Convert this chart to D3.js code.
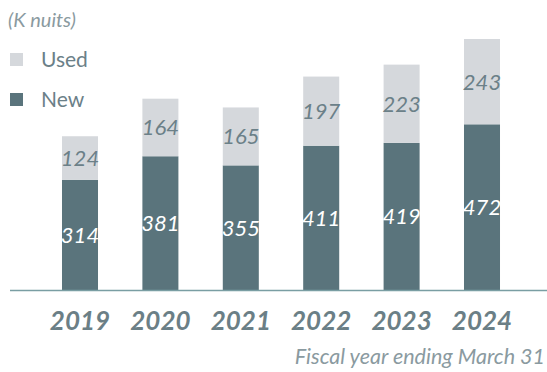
<!DOCTYPE html>
<html>
<head>
<meta charset="utf-8">
<title>K nuits</title>
<style>
body { margin: 0; background: #fff; }
text { font-family: Lato, "Open Sans", sans-serif; font-style: italic; }
</style>
</head>
<body>
<div id="chart"></div>
<script src="https://d3js.org/d3.v7.min.js"></script>
<script>
// values
var years = ["2019", "2020", "2021", "2022", "2023", "2024"];
var newUnits = [314, 381, 355, 411, 419, 472];
var usedUnits = [124, 164, 165, 197, 223, 243];
var legendLabels = ["Used", "New"];

var w = 547, h = 372;
var colNew = "#5a747c", colUsed = "#d5d8dc";

var svg = d3.select("#chart").append("svg")
    .attr("width", w).attr("height", h);

// x band: centres at 80 ... 482
var x = d3.scaleBand().domain(years)
    .range([39.8, 522.2]).paddingInner(0.552).paddingOuter(0.276);
var y = d3.scaleLinear().domain([0, 715]).range([290, 39]);

var rows = years.map(function(yr, i) {
  return { year: yr, n: newUnits[i], u: usedUnits[i] };
});

// new segments
svg.selectAll("rect.new").data(rows).enter().append("rect")
    .attr("class", "new")
    .attr("x", function(d) { return x(d.year); })
    .attr("width", x.bandwidth())
    .attr("y", function(d) { return y(d.n); })
    .attr("height", function(d) { return y(0) - y(d.n); })
    .attr("fill", colNew);

// used segments
svg.selectAll("rect.used").data(rows).enter().append("rect")
    .attr("class", "used")
    .attr("x", function(d) { return x(d.year); })
    .attr("width", x.bandwidth())
    .attr("y", function(d) { return y(d.n + d.u); })
    .attr("height", function(d) { return y(d.n) - y(d.n + d.u); })
    .attr("fill", colUsed);

// labels in bars
svg.selectAll("text.lnew").data(rows).enter().append("text")
    .attr("x", function(d) { return x(d.year) + x.bandwidth() / 2; })
    .attr("y", function(d) { return (y(0) + y(d.n)) / 2 + 8; })
    .attr("text-anchor", "middle")
    .attr("font-size", 22)
    .attr("fill", "#fff")
    .text(function(d) { return d.n; });

svg.selectAll("text.lused").data(rows).enter().append("text")
    .attr("x", function(d) { return x(d.year) + x.bandwidth() / 2; })
    .attr("y", function(d) { return (y(d.n) + y(d.n + d.u)) / 2 + 8; })
    .attr("text-anchor", "middle")
    .attr("font-size", 22)
    .attr("fill", "#6b8088")
    .text(function(d) { return d.u; });

// baseline
svg.append("line")
    .attr("x1", 10).attr("x2", w)
    .attr("y1", y(0) + 0.5).attr("y2", y(0) + 0.5)
    .attr("stroke", "#7a9ea3").attr("stroke-width", 1.5);

// year axis
var xAxis = svg.append("g")
    .attr("transform", "translate(0," + y(0) + ")")
    .call(d3.axisBottom(x).tickSize(0).tickPadding(0));
xAxis.select(".domain").remove();
xAxis.selectAll("text")
    .attr("dy", 0).attr("y", 40)
    .style("font-family", "Lato, sans-serif")
    .style("font-style", "italic")
    .style("font-weight", "bold")
    .style("font-size", "26px")
    .attr("fill", "#6b7f86");

// unit + legend
svg.append("text").attr("x", 8).attr("y", 27)
    .attr("font-size", 20).attr("fill", "#8a9aa0")
    .text("(K nuits)");

var legend = svg.selectAll("g.leg").data(legendLabels).enter().append("g")
    .attr("transform", function(d, i) { return "translate(10," + (53 + i * 40) + ")"; });
legend.append("rect").attr("width", 13).attr("height", 13)
    .attr("fill", function(d, i) { return i === 0 ? colUsed : colNew; });
legend.append("text").attr("x", 31).attr("y", 14)
    .attr("font-size", 21).attr("fill", "#6b8088")
    .style("font-style", "normal")
    .text(function(d) { return d; });

// footnote
svg.append("text").attr("x", w - 2).attr("y", 364)
    .attr("text-anchor", "end")
    .attr("font-size", 21.5).attr("fill", "#8a9aa0")
    .text("Fiscal year ending March 31");
</script>
</body>
</html>
